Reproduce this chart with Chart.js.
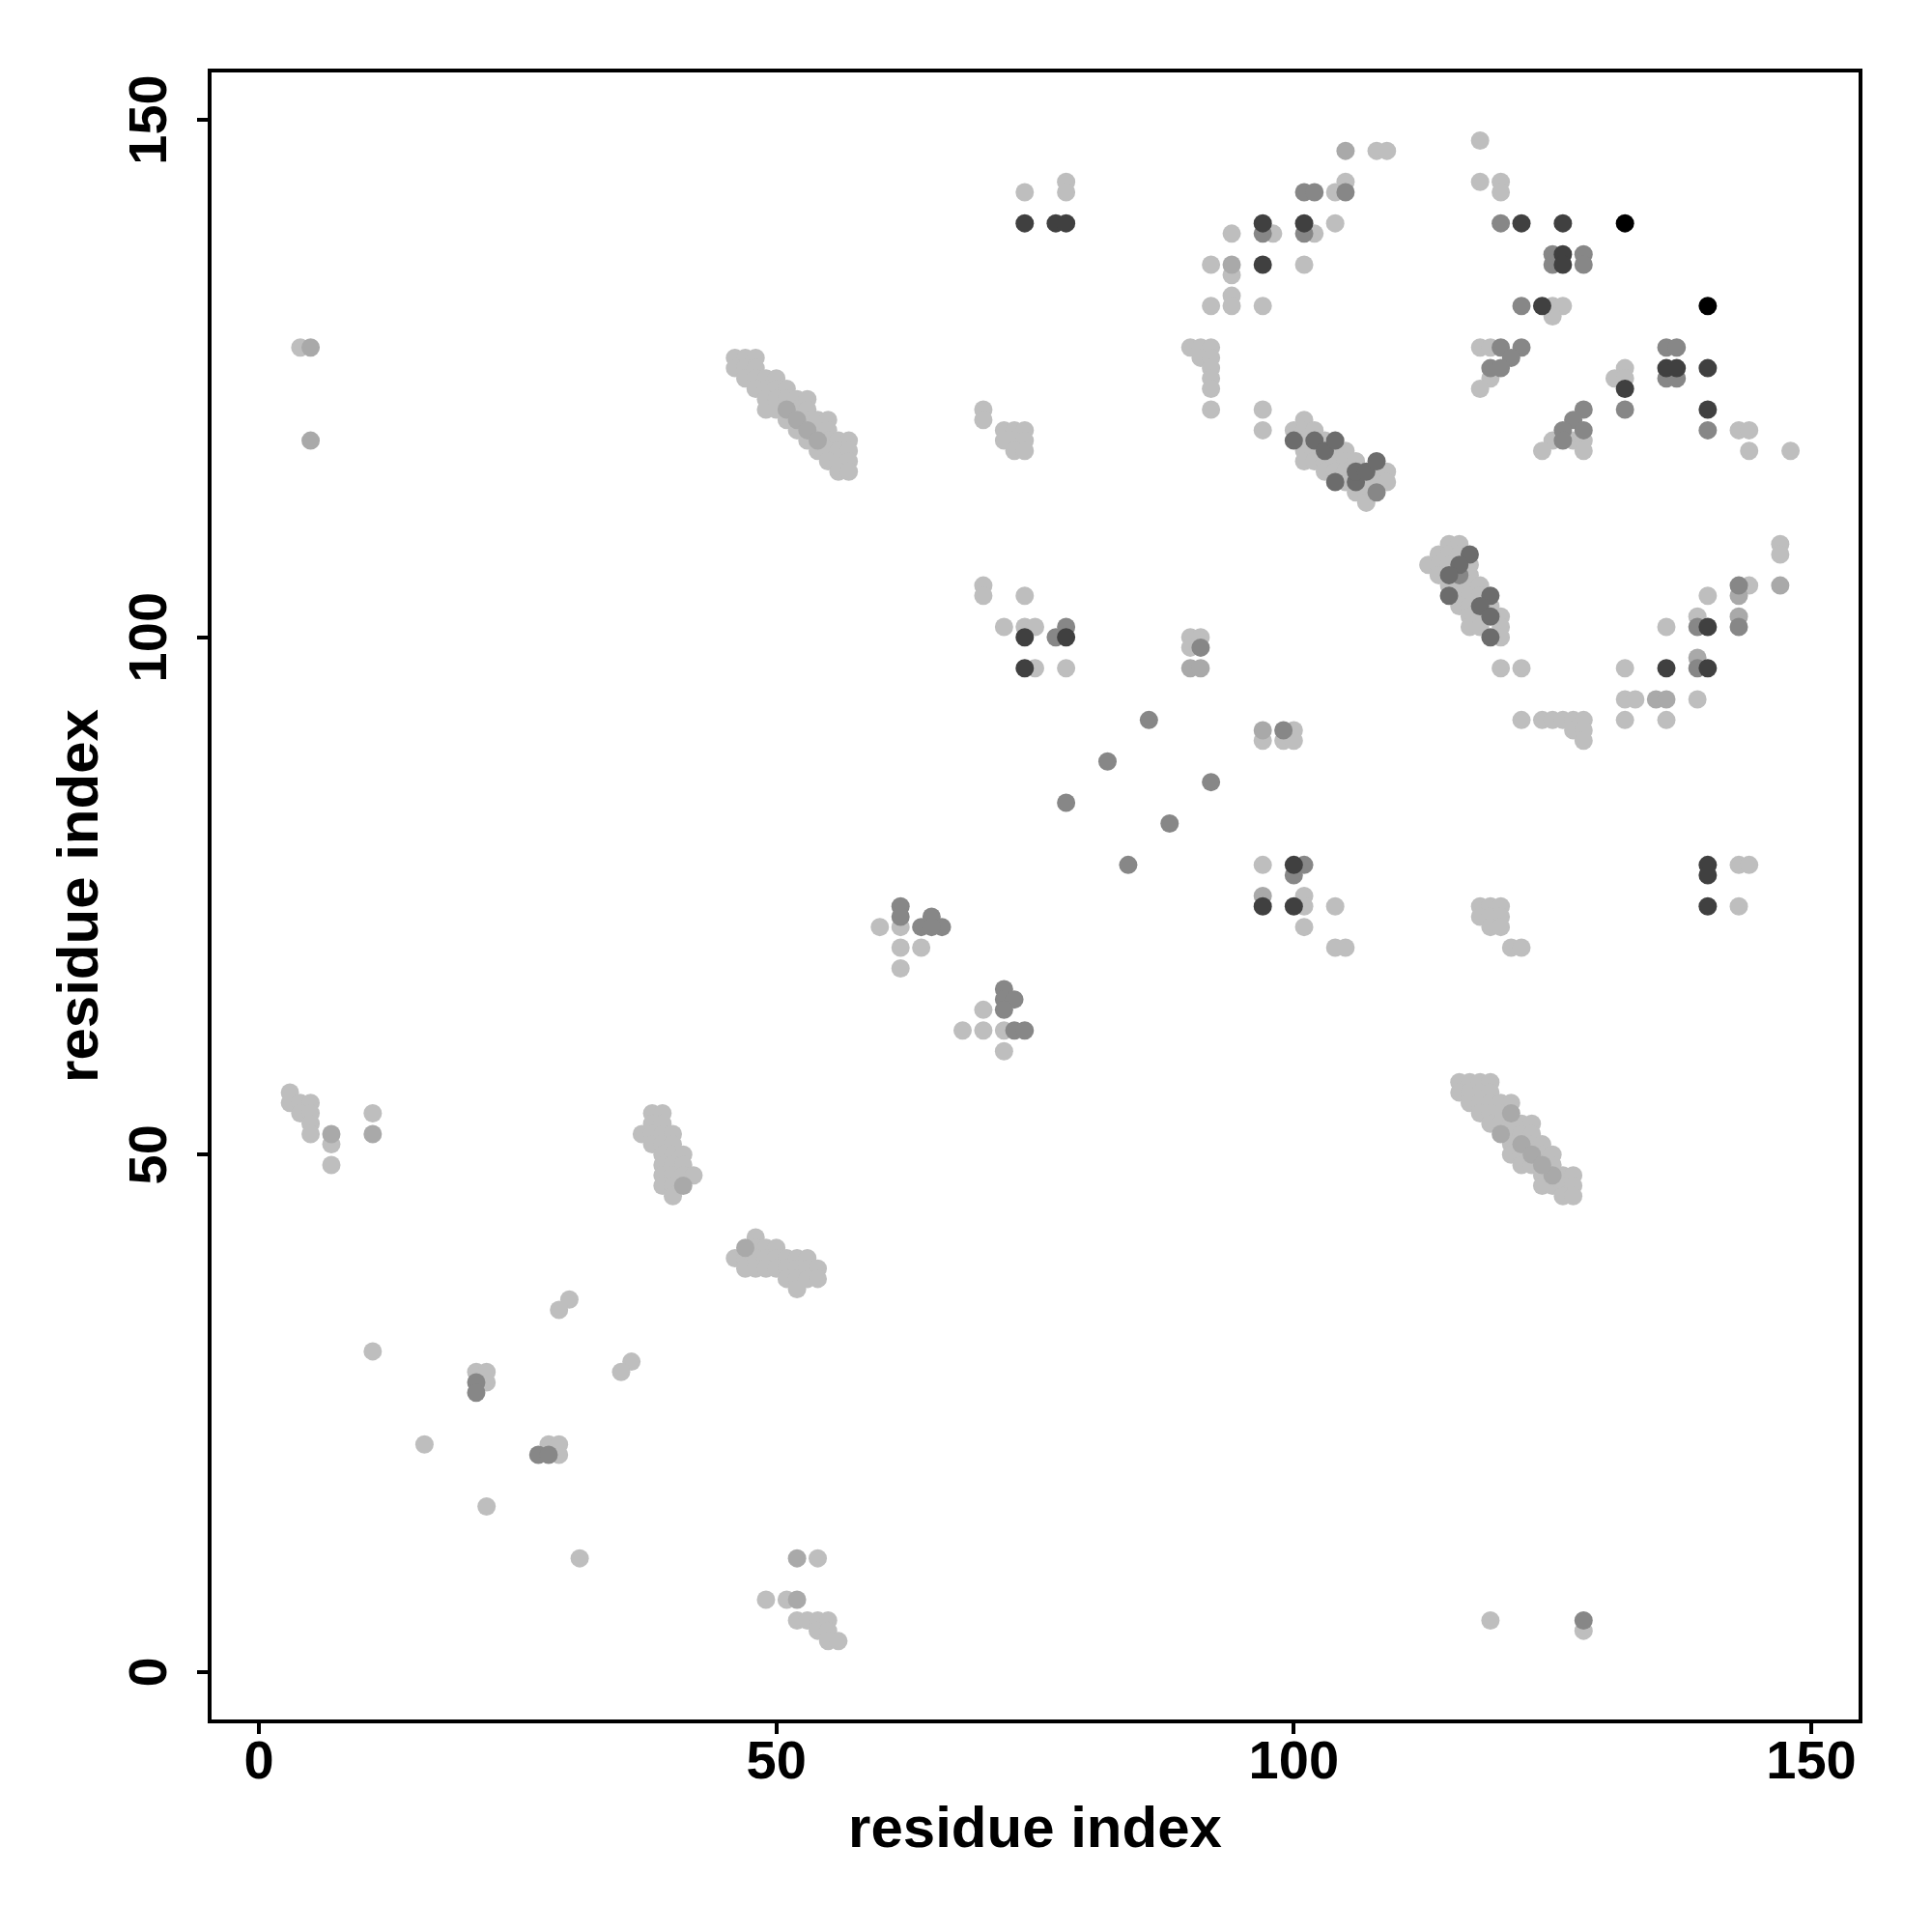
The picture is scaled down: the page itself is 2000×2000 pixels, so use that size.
<!DOCTYPE html>
<html><head><meta charset="utf-8">
<script src="https://cdn.jsdelivr.net/npm/chart.js@4/dist/chart.umd.min.js"></script>
<style>html,body{margin:0;padding:0;background:#fff}</style>
</head><body>
<canvas id="c" width="2000" height="2000"></canvas>
<script>
// ---- data ----
const xTitle = "residue index";
const yTitle = "residue index";
const tickValues = [0, 50, 100, 150];
const tickLabels = ["0", "50", "100", "150"];
const axisMin = -4.76, axisMax = 154.76;

const contactsBlack = [[132,140],[140,132]];

const contactsDark = [
 [74,140],[77,140],[78,140],[74,100],[78,100],[74,97],
 [97,140],[101,140],[97,136],[122,140],[126,140],[126,137],[126,136],[124,132],
 [136,126],[137,126],[140,126],[132,124],[140,122],
 [140,101],[140,97],[136,97],
 [100,78],[97,74],[100,74],[140,78],[140,77],[140,74]
];

const contactsDarkGray = [
 [100,119],[102,119],[103,118],[104,119],[104,115],[106,115],[106,116],[107,116],[108,117],
 [117,108],[116,107],[115,106],[115,104],[119,104],[118,103],[119,102],[119,100]
];

const contactsGray = [
 [86,92],[82,88],[92,86],[78,84],[88,82],[84,78],
 [62,74],[62,73],[64,72],[65,73],[66,72],[65,72],
 [72,66],[72,65],[73,65],[72,64],[73,62],[74,62],
 [21,28],[21,27],[27,21],[28,21],
 [78,101],[77,100],
 [101,143],[102,143],[105,143],[97,139],[101,139],
 [120,140],[125,137],[125,136],[128,137],[128,136],[122,132],
 [120,128],[122,128],[121,127],[119,126],[120,126],
 [136,128],[137,128],[136,125],[137,125],
 [128,122],[127,121],[132,122],[126,120],[128,120],[126,119],[140,120],
 [143,105],[139,101],[143,101],[139,97],
 [99,91],[101,78],[100,77],[91,99],[108,114],
 [128,5],[116,106]
];

const contactsMid = [
 [52,11],[52,7],[7,52],[11,52],[41,47],[47,41],[5,128],[5,119],
 [105,147],[94,136],[147,105],[143,104],[143,102],[139,98],[135,94],[136,94],[97,91],[97,75],
 [90,97],[91,97],
 [51,122],[52,121],[53,120],[54,119],
 [120,52],[122,51],[123,50],[125,48],[121,54],[124,49]
];

const contactsLight = [
 [11,31],[30,36],[29,35],[36,30],[35,29],[21,29],[22,29],[22,28],[16,22],[28,22],[29,22],[29,21],
 [22,16],[31,11],[54,11],[49,7],[51,7],[52,5],[53,5],[54,5],[55,5],[54,4],[55,4],[55,3],[56,3],
 [3,56],[3,55],[4,55],[5,55],[4,54],[5,54],[5,53],[5,52],[7,51],[7,49],[11,54],
 [38,54],[39,54],[38,53],[39,53],[37,52],[38,52],[39,52],[40,52],[38,51],[39,51],[40,51],
 [39,50],[40,50],[41,50],[39,49],[40,49],[41,49],[39,48],[40,48],[41,48],[42,48],[39,47],[40,47],[40,46],
 [48,42],[48,41],[49,41],[50,41],[46,40],[47,40],[48,40],[49,40],[50,40],[51,40],[52,40],[53,40],
 [47,39],[48,39],[49,39],[50,39],[51,39],[52,39],[53,39],[54,39],[51,38],[52,38],[53,38],[54,38],[52,37],
 [60,72],[62,72],[62,70],[64,70],[62,68],[70,64],[68,62],[70,62],[72,62],[72,60],
 [4,128],
 [46,127],[47,127],[48,127],[46,126],[47,126],[48,126],[47,125],[48,125],[49,125],[50,125],
 [48,124],[49,124],[50,124],[51,124],[49,123],[50,123],[51,123],[52,123],[53,123],
 [49,122],[50,122],[52,122],[53,122],[51,121],[53,121],[54,121],[55,121],[52,120],[54,120],[55,120],
 [53,119],[55,119],[56,119],[57,119],[54,118],[55,118],[56,118],[57,118],[55,117],[56,117],[57,117],[56,116],[57,116],
 [74,143],[78,144],[78,143],[70,122],[70,121],[72,120],[73,120],[74,120],[72,119],[73,119],[74,119],[73,118],[74,118],
 [70,105],[70,104],[74,104],[72,101],[74,101],[75,101],[75,97],[78,97],
 [108,147],[109,147],[118,148],[104,143],[105,144],[118,144],[120,144],[120,143],[98,139],[102,139],[104,140],[94,139],
 [92,136],[94,135],[101,136],[94,133],[92,132],[94,132],[97,132],[125,132],[126,132],[125,131],
 [90,128],[91,128],[92,128],[91,127],[92,127],[92,126],[92,125],[92,124],[92,122],[97,122],[97,120],
 [118,128],[119,128],[119,125],[118,124],[132,126],[131,125],[132,125],
 [125,119],[127,119],[128,119],[124,118],[128,118],[143,120],[144,120],[144,118],[148,118],
 [101,121],[100,120],[101,120],[102,120],[101,119],[103,119],[101,118],[102,118],[104,118],[105,118],
 [101,117],[102,117],[103,117],[104,117],[105,117],[106,117],[103,116],[104,116],[105,116],[108,116],[109,116],
 [105,115],[107,115],[108,115],[109,115],[106,114],[107,114],[107,113],
 [115,109],[116,109],[114,108],[115,108],[116,108],[113,107],[114,107],[115,107],[117,107],[114,106],[117,106],
 [115,105],[116,105],[117,105],[118,105],[116,104],[117,104],[118,104],[116,103],[117,103],[119,103],
 [117,102],[118,102],[120,102],[117,101],[118,101],[120,101],[120,100],[120,97],[122,97],
 [147,109],[147,108],[144,105],[140,104],[139,102],[136,101],[132,97],[132,94],[133,94],[139,94],
 [122,92],[124,92],[125,92],[126,92],[127,92],[128,92],[127,91],[128,91],[128,90],[132,92],[136,92],
 [97,90],[100,91],[99,90],[100,90],[90,100],[91,100],[90,99],
 [97,78],[101,75],[101,74],[101,72],[104,74],[104,70],[105,70],
 [118,74],[119,74],[120,74],[118,73],[119,73],[120,73],[119,72],[120,72],[121,70],[122,70],
 [143,78],[144,78],[143,74],
 [116,57],[117,57],[118,57],[119,57],[116,56],[117,56],[118,56],[119,56],
 [117,55],[118,55],[119,55],[120,55],[121,55],[118,54],[119,54],[120,54],
 [119,53],[120,53],[121,53],[122,53],[123,53],[121,52],[122,52],[123,52],
 [121,51],[123,51],[124,51],[121,50],[122,50],[124,50],[125,50],
 [122,49],[123,49],[125,49],[124,48],[126,48],[127,48],
 [124,47],[125,47],[126,47],[127,47],[126,46],[127,46],
 [119,5],[128,4]
];

// ---- chart ----
const toXY = arr => arr.map(p => ({x: p[0], y: p[1]}));
function ds(arr, color) {
  return { data: toXY(arr), backgroundColor: color, borderWidth: 0,
           pointRadius: 9.5, pointHoverRadius: 9.5, pointStyle: 'circle' };
}

const FONT = '"Liberation Sans", Arial, Helvetica, sans-serif';
const decor = {
  id: 'decor',
  afterDraw(chart) {
    const ctx = chart.ctx, ca = chart.chartArea;
    const xs = chart.scales.x, ys = chart.scales.y;
    ctx.save();
    ctx.strokeStyle = '#000'; ctx.lineWidth = 4;
    ctx.strokeRect(ca.left, ca.top, ca.right - ca.left, ca.bottom - ca.top);
    ctx.fillStyle = '#000';
    ctx.font = 'bold 56px ' + FONT;
    ctx.textAlign = 'center'; ctx.textBaseline = 'alphabetic';
    xs.ticks.forEach((t, i) => ctx.fillText(tickLabels[i], xs.getPixelForValue(t.value), ca.bottom + 59));
    ys.ticks.forEach((t, i) => {
      ctx.save(); ctx.translate(ca.left - 45, ys.getPixelForValue(t.value));
      ctx.rotate(-Math.PI / 2); ctx.fillText(tickLabels[i], 0, 0); ctx.restore();
    });
    ctx.font = 'bold 60px ' + FONT;
    ctx.fillText(xTitle, (ca.left + ca.right) / 2, ca.bottom + 130);
    ctx.save(); ctx.translate(ca.left - 116, (ca.top + ca.bottom) / 2);
    ctx.rotate(-Math.PI / 2); ctx.fillText(yTitle, 0, 0); ctx.restore();
    ctx.restore();
  }
};

const axisCommon = {
  type: 'linear', min: axisMin, max: axisMax,
  afterBuildTicks: s => { s.ticks = tickValues.map(v => ({ value: v })); },
  ticks: { display: false },
  grid: { drawOnChartArea: false, drawTicks: true, tickLength: 13, tickWidth: 4,
          tickColor: '#000', color: '#000', lineWidth: 4 },
  border: { display: false }
};

new Chart(document.getElementById('c'), {
  type: 'scatter',
  data: { datasets: [
    ds(contactsBlack, '#000000'),
    ds(contactsDark, '#404040'),
    ds(contactsDarkGray, '#6c6c6c'),
    ds(contactsGray, '#878787'),
    ds(contactsMid, '#a9a9a9'),
    ds(contactsLight, '#bebebe')
  ]},
  options: {
    responsive: false, animation: false, devicePixelRatio: 1,
    layout: { padding: { top: 73, right: 74, left: 0, bottom: 0 } },
    plugins: { legend: { display: false }, tooltip: { enabled: false } },
    scales: {
      x: Object.assign({}, axisCommon, { position: 'bottom', afterFit: s => { s.height = 218; } }),
      y: Object.assign({}, axisCommon, { position: 'left', afterFit: s => { s.width = 217; } })
    }
  },
  plugins: [decor]
});
</script>
</body></html>
